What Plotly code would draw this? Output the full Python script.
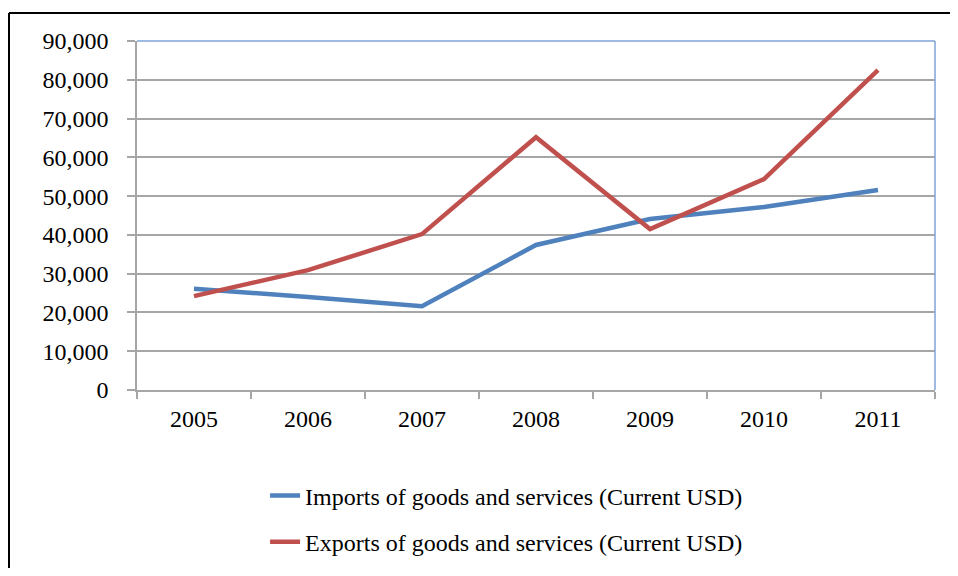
import plotly.graph_objects as go

years = ["2005", "2006", "2007", "2008", "2009", "2010", "2011"]
imports = [26100, 24000, 21600, 37400, 44100, 47200, 51600]
exports = [24200, 30900, 40200, 65200, 41500, 54400, 82500]
y_ticks = [0, 10000, 20000, 30000, 40000, 50000, 60000, 70000, 80000, 90000]
names = ["Imports of goods and services (Current USD)",
         "Exports of goods and services (Current USD)"]

FONT = "Liberation Serif, Times New Roman, serif"
GRID = "#a6a6a6"
BLUE_BORDER = "#7ea3d6"

# pixel-to-paper helpers (plot area spans 798 x 349 px)
PX = lambda p: (p - 137) / 798
PY = lambda p: (390 - p) / 349

fig = go.Figure()
fig.add_trace(go.Scatter(x=years, y=imports, mode="lines", name=names[0],
                         legendgroup="a",
                         line=dict(color="#4f81bd", width=4.5)))
fig.add_trace(go.Scatter(x=years, y=exports, mode="lines", name=names[1],
                         legendgroup="b",
                         line=dict(color="#c0504d", width=4.5)))

fig.update_layout(
    width=942, height=560,
    margin=dict(l=129, r=15, t=33, b=178, autoexpand=False),
    paper_bgcolor="white",
    plot_bgcolor="rgba(0,0,0,0)",
    font=dict(family=FONT, size=24, color="black"),
    showlegend=True,
    legend=dict(x=0.1605, y=-0.239, xanchor="left", yanchor="top",
                traceorder="grouped", tracegroupgap=12,
                font=dict(family=FONT, size=24, color="black"),
                bgcolor="rgba(0,0,0,0)"),
    xaxis=dict(type="category", range=[-0.5, 6.5], autorange=False,
               automargin=False, showgrid=False, showline=True,
               linecolor=GRID, linewidth=1.5, ticks="outside",
               tickson="boundaries", ticklen=7, tickcolor=GRID, tickwidth=1.5,
               ticklabelstandoff=6, zeroline=False, fixedrange=True),
    yaxis=dict(range=[0, 90000], autorange=False, automargin=False,
               tickvals=y_ticks, tickformat=",",
               showgrid=True, gridcolor=GRID, gridwidth=1.5,
               showline=True, linecolor=GRID, linewidth=1.5,
               ticks="outside", ticklen=8, tickcolor=GRID, tickwidth=1.5,
               ticklabelstandoff=14, zeroline=False, fixedrange=True),
    shapes=[
        dict(type="line", xref="paper", yref="paper", x0=0, x1=1, y0=1, y1=1,
             line=dict(color=BLUE_BORDER, width=1.5), layer="above"),
        dict(type="line", xref="paper", yref="paper", x0=1, x1=1, y0=0, y1=1,
             line=dict(color=BLUE_BORDER, width=1.5), layer="above"),
        dict(type="line", xref="paper", yref="paper",
             x0=PX(9), x1=PX(960), y0=PY(13), y1=PY(13),
             line=dict(color="black", width=2), layer="above"),
        dict(type="line", xref="paper", yref="paper",
             x0=PX(9), x1=PX(9), y0=PY(13), y1=PY(580),
             line=dict(color="black", width=2), layer="above"),
    ],
)

fig.write_html("out.html")
